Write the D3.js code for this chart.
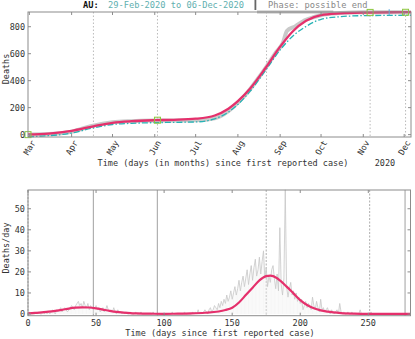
<!DOCTYPE html>
<html>
<head>
<meta charset="utf-8">
<script src="https://cdn.jsdelivr.net/npm/d3@7"></script>
<style>
  body { margin: 0; background: #fff; }
  svg { display: block; font-family: "DejaVu Sans Mono", monospace; }
</style>
</head>
<body>
<div id="chart"></div>
<script>
// cumulative deaths (top panel)
const fitDates = ["2020-02-29","2020-03-15","2020-04-01","2020-04-17","2020-05-01","2020-05-15","2020-06-01","2020-06-15","2020-07-01","2020-07-15","2020-07-25","2020-08-01","2020-08-10","2020-08-21","2020-09-01","2020-09-10","2020-09-20","2020-10-01","2020-10-15","2020-11-01","2020-11-20","2020-12-06"];
const fitMain = [2, 8, 28, 62, 88, 100, 107, 110, 118, 142, 192, 248, 342, 490, 652, 763, 844, 886, 899, 905, 907, 908];
const fitAlt = [-15, -8, 12, 50, 75, 84, 89, 91, 94, 117, 167, 224, 322, 472, 628, 728, 802, 855, 874, 882, 884, 885];

const obsDates = ["2020-03-01","2020-03-15","2020-04-01","2020-04-15","2020-05-01","2020-05-15","2020-06-01","2020-06-15","2020-07-01","2020-07-15","2020-07-25","2020-08-01","2020-08-08","2020-08-15","2020-08-22","2020-08-29","2020-09-03","2020-09-06","2020-09-12","2020-09-19","2020-09-26","2020-10-03","2020-10-15","2020-11-01","2020-12-06"];
const obsCum = [1, 4, 22, 62, 92, 100, 104, 105, 106, 122, 175, 238, 312, 405, 505, 612, 680, 770, 802, 848, 872, 890, 901, 907, 908];

const markerDays = [0, 95, 251, 277];
const markerVals = [0, 107, 906, 907];

// daily deaths (bottom panel), day 0 .. 281
const daily = [
  0,1,0,0,0,0,1,0,1,0,
  0,1,0,1,0,1,0,1,2,1,
  0,2,1,2,3,1,2,3,2,1,
  2,3,4,3,2,4,5,6,4,5,
  3,6,4,3,5,2,4,3,2,3,
  4,2,3,1,2,3,1,2,4,2,
  1,2,1,3,1,0,2,1,1,0,
  1,0,1,0,0,1,0,0,0,1,
  0,0,0,1,0,0,0,0,0,0,
  0,0,1,0,0,0,0,0,0,0,
  0,0,0,0,0,0,1,0,0,0,
  0,0,0,0,0,1,0,0,0,0,
  0,1,0,1,0,2,0,1,0,1,
  2,1,0,2,3,1,2,4,3,2,
  5,3,6,4,7,5,9,6,8,11,
  7,10,13,9,12,16,11,15,18,13,
  17,21,14,19,23,16,22,26,18,21,
  27,19,25,30,17,22,13,18,15,21,
  23,17,12,19,11,41,14,9,17,59,
  13,8,12,15,9,11,7,10,6,8,
  5,7,2,4,6,3,5,4,2,8,
  4,2,6,3,1,7,2,3,1,2,
  3,1,0,2,1,0,1,2,0,5,
  1,0,1,0,0,1,0,0,1,0,
  0,0,0,0,2,0,0,0,0,0,
  0,0,1,0,0,0,0,0,0,0,
  0,0,0,0,0,0,0,0,0,0,
  0,0,0,0,0,0,0,0,0,0,
  0,0
];
const rateDays = [0, 5, 10, 15, 20, 25, 30, 35, 40, 45, 50, 55, 60, 65, 70, 75, 80, 90, 100, 110, 120, 130, 140, 145, 150, 155, 160, 165, 170, 175, 178, 180, 185, 190, 195, 200, 205, 210, 215, 220, 230, 240, 250, 281];
const rateFit = [0.3, 0.5, 0.8, 1.1, 1.5, 2.0, 2.6, 3.0, 3.2, 3.1, 2.7, 2.1, 1.5, 1.0, 0.7, 0.45, 0.3, 0.15, 0.1, 0.15, 0.3, 0.6, 1.2, 1.9, 3.0, 5.5, 9.0, 12.5, 16.0, 18.0, 18.2, 18.0, 16.0, 13.0, 9.8, 6.6, 4.3, 2.7, 1.7, 1.1, 0.45, 0.2, 0.1, 0.05];

const eventDays = [0, 48, 95, 175, 251, 277];
const eventSolid = [false, true, true, false, false, true];

const yTicksTop = [0, 200, 400, 600, 800];
const yTicksBot = [0, 10, 20, 30, 40, 50];
const xTicksBot = [0, 50, 100, 150, 200, 250];

const parse = d3.timeParse("%Y-%m-%d");
const start = parse("2020-02-29");
const dayToDate = d => d3.timeDay.offset(start, d);

const W = 415, H = 339;
const svg = d3.select("#chart").append("svg").attr("width", W).attr("height", H);

const pink = "#e5306c", teal = "#27b3b5", frame = "#8c8c8c", txt = "#333";

// ---------- top panel ----------
const xT = d3.scaleTime().domain([start, parse("2020-12-06")]).range([28, 411]);
const yT = d3.scaleLinear().domain([-17.5, 909]).range([137, 12]);
const gTop = svg.append("g");

// event lines
gTop.selectAll(".ev").data(eventDays.slice(1)).enter().append("line")
  .attr("x1", d => xT(dayToDate(d))).attr("x2", d => xT(dayToDate(d)))
  .attr("y1", 12).attr("y2", 137)
  .attr("stroke", "#aaa").attr("stroke-width", 0.8).attr("stroke-dasharray", "1.5,2");

// observed cumulative
gTop.append("path")
  .datum(obsDates.map((d, i) => [parse(d), obsCum[i]]))
  .attr("fill", "none").attr("stroke", "#c9c9c9").attr("stroke-width", 4)
  .attr("d", d3.line().x(d => xT(d[0])).y(d => yT(d[1])).curve(d3.curveMonotoneX));

// grey band at top
gTop.append("line")
  .attr("x1", xT(parse("2020-08-15"))).attr("x2", xT(parse("2020-10-10")))
  .attr("y1", yT(909)).attr("y2", yT(909))
  .attr("stroke", "#bbb").attr("stroke-width", 3);

gTop.append("path")
  .datum(fitDates.map((d, i) => [parse(d), fitAlt[i]]))
  .attr("fill", "none").attr("stroke", teal).attr("stroke-width", 1.3)
  .attr("stroke-dasharray", "6,2,1.5,2")
  .attr("d", d3.line().x(d => xT(d[0])).y(d => yT(d[1])).curve(d3.curveMonotoneX));

gTop.append("path")
  .datum(fitDates.map((d, i) => [parse(d), fitMain[i]]))
  .attr("fill", "none").attr("stroke", pink).attr("stroke-width", 2.3)
  .attr("d", d3.line().x(d => xT(d[0])).y(d => yT(d[1])).curve(d3.curveMonotoneX));

gTop.selectAll(".mk").data(markerDays).enter().append("rect")
  .attr("x", d => xT(dayToDate(d)) - 3).attr("y", (d, i) => yT(markerVals[i]) - 3)
  .attr("width", 6).attr("height", 6)
  .attr("fill", "none").attr("stroke", "#8dc63f").attr("stroke-width", 1);

gTop.append("line")
  .attr("x1", xT(dayToDate(265))).attr("x2", xT(dayToDate(265)))
  .attr("y1", yT(907) - 3).attr("y2", yT(907) + 3)
  .attr("stroke", "#6ab0e0").attr("stroke-width", 1.2);

// frame and ticks
gTop.append("rect").attr("x", 28).attr("y", 12).attr("width", 383).attr("height", 125)
  .attr("fill", "none").attr("stroke", frame).attr("stroke-width", 1);

const months = d3.timeMonth.range(parse("2020-03-01"), parse("2020-12-02"));
months.forEach(m => {
  const x = xT(m);
  gTop.append("line").attr("x1", x).attr("x2", x).attr("y1", 137).attr("y2", 134).attr("stroke", frame);
  gTop.append("line").attr("x1", x).attr("x2", x).attr("y1", 12).attr("y2", 15).attr("stroke", frame);
  gTop.append("text")
    .attr("transform", `translate(${x + 4},${141}) rotate(-60)`)
    .attr("text-anchor", "end").attr("dy", "0.35em")
    .attr("font-size", 8.5).attr("fill", txt)
    .text(d3.timeFormat("%b")(m));
});
yTicksTop.forEach(v => {
  const y = yT(v);
  gTop.append("line").attr("x1", 28).attr("x2", 31).attr("y1", y).attr("y2", y).attr("stroke", frame);
  gTop.append("line").attr("x1", 411).attr("x2", 408).attr("y1", y).attr("y2", y).attr("stroke", frame);
  gTop.append("text").attr("x", 25).attr("y", y).attr("dy", "0.35em")
    .attr("text-anchor", "end").attr("font-size", 8.5).attr("fill", txt).text(v);
});

gTop.append("text").attr("transform", "translate(9,69) rotate(-90)")
  .attr("text-anchor", "middle").attr("font-size", 8.5).attr("fill", txt).text("Deaths");
gTop.append("text").attr("x", 223).attr("y", 166).attr("text-anchor", "middle")
  .attr("font-size", 8.5).attr("fill", txt).text("Time (days (in months) since first reported case)");
gTop.append("text").attr("x", 385).attr("y", 166).attr("text-anchor", "middle")
  .attr("font-size", 8.5).attr("fill", txt).text("2020");

// title
const title = svg.append("text").attr("y", 8).attr("font-size", 8.7);
title.append("tspan").attr("x", 83).attr("font-weight", "bold").attr("fill", "#111").text("AU:");
title.append("tspan").attr("x", 108).attr("fill", "#5fb0b0").text("29-Feb-2020 to 06-Dec-2020");
title.append("tspan").attr("x", 268).attr("fill", "#888").text("Phase: possible end");
svg.append("rect").attr("x", 254.5).attr("y", 0).attr("width", 1.8).attr("height", 10).attr("fill", "#666");

// ---------- bottom panel ----------
const xB = d3.scaleLinear().domain([0, 281]).range([28, 410.5]);
const yB = d3.scaleLinear().domain([-0.8, 58.9]).range([315.7, 190]);
const gBot = svg.append("g");

gBot.selectAll(".ev").data(eventDays).enter().append("line")
  .attr("x1", d => xB(d)).attr("x2", d => xB(d))
  .attr("y1", 190).attr("y2", 315.7)
  .attr("stroke", (d, i) => eventSolid[i] ? "#888" : "#999")
  .attr("stroke-width", 0.8)
  .attr("stroke-dasharray", (d, i) => eventSolid[i] ? null : "2,1.5");

gBot.selectAll(".imp").data(daily).enter().append("line")
  .attr("x1", (d, i) => xB(i)).attr("x2", (d, i) => xB(i))
  .attr("y1", yB(0)).attr("y2", d => yB(d))
  .attr("stroke", "#f0f0f0").attr("stroke-width", 0.6);

gBot.append("path").datum(daily)
  .attr("fill", "none").attr("stroke", "#c8c8c8").attr("stroke-width", 0.8)
  .attr("d", d3.line().x((d, i) => xB(i)).y(d => yB(d)));

gBot.append("path").datum(rateDays.map((d, i) => [d, rateFit[i]]))
  .attr("fill", "none").attr("stroke", pink).attr("stroke-width", 2.2)
  .attr("d", d3.line().x(d => xB(d[0])).y(d => yB(d[1])).curve(d3.curveMonotoneX));

gBot.append("rect").attr("x", 28).attr("y", 190).attr("width", 382.5).attr("height", 125.7)
  .attr("fill", "none").attr("stroke", frame).attr("stroke-width", 1);

xTicksBot.forEach(v => {
  const x = xB(v);
  gBot.append("line").attr("x1", x).attr("x2", x).attr("y1", 315.7).attr("y2", 312.7).attr("stroke", frame);
  gBot.append("line").attr("x1", x).attr("x2", x).attr("y1", 190).attr("y2", 193).attr("stroke", frame);
  gBot.append("text").attr("x", x).attr("y", 326).attr("text-anchor", "middle")
    .attr("font-size", 8.5).attr("fill", txt).text(v);
});
yTicksBot.forEach(v => {
  const y = yB(v);
  gBot.append("line").attr("x1", 28).attr("x2", 31).attr("y1", y).attr("y2", y).attr("stroke", frame);
  gBot.append("line").attr("x1", 410.5).attr("x2", 407.5).attr("y1", y).attr("y2", y).attr("stroke", frame);
  gBot.append("text").attr("x", 25).attr("y", y).attr("dy", "0.35em")
    .attr("text-anchor", "end").attr("font-size", 8.5).attr("fill", txt).text(v);
});

gBot.append("text").attr("transform", "translate(9,248) rotate(-90)")
  .attr("text-anchor", "middle").attr("font-size", 8.5).attr("fill", txt).text("Deaths/day");
gBot.append("text").attr("x", 220).attr("y", 336).attr("text-anchor", "middle")
  .attr("font-size", 8.5).attr("fill", txt).text("Time (days since first reported case)");
</script>
</body>
</html>
